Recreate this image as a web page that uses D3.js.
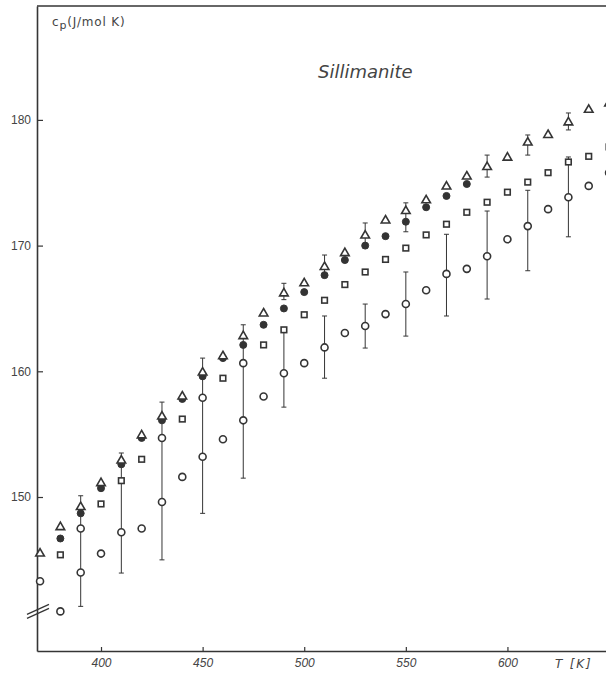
<!DOCTYPE html>
<html>
<head>
<meta charset="utf-8">
<script src="https://cdn.jsdelivr.net/npm/d3@7"></script>
<style>
	body { margin: 0; background: #fff; }
	svg { display: block; }
</style>
</head>
<body>
<div id="chart"></div>
<script>
const WIDTH = 606
const HEIGHT = 675
const INK = '#353535'
const TEXT = '#444'

// cp in J/(mol K) against T in K
const triangles = [
	[370, 145.5], [380, 147.6], [390, 149.2], [400, 151.1], [410, 152.9],
	[420, 154.9], [430, 156.4], [440, 158.0], [450, 159.9], [460, 161.2],
	[470, 162.8], [480, 164.6], [490, 166.2], [500, 167.0], [510, 168.3],
	[520, 169.4], [530, 170.8], [540, 172.0], [550, 172.75], [560, 173.6],
	[570, 174.7], [580, 175.5], [590, 176.25], [600, 177.0], [610, 178.2],
	[620, 178.8], [630, 179.8], [640, 180.8], [650, 181.3]
]

const filled = [
	[380, 146.7], [390, 148.7], [400, 150.7], [410, 152.6], [420, 154.7],
	[430, 156.1], [440, 157.8], [450, 159.6], [460, 161.05], [470, 162.1],
	[480, 163.7], [490, 165.0], [500, 166.3], [510, 167.65], [520, 168.85],
	[530, 170.0], [540, 170.75], [550, 171.9], [560, 173.05], [570, 173.95],
	[580, 174.9]
]

const squares = [
	[380, 145.4], [400, 149.45], [410, 151.3], [420, 153.0], [440, 156.2],
	[460, 159.45], [480, 162.1], [490, 163.3], [500, 164.5], [510, 165.65],
	[520, 166.9], [530, 167.9], [540, 168.9], [550, 169.8], [560, 170.85],
	[570, 171.7], [580, 172.65], [590, 173.45], [600, 174.25], [610, 175.05],
	[620, 175.8], [630, 176.65], [640, 177.1], [650, 177.85]
]

const circles = [
	[370, 143.3], [380, 140.9], [390, 147.5], [390, 144.0], [400, 145.5],
	[410, 147.2], [420, 147.5], [430, 154.7], [430, 149.6], [440, 151.6],
	[450, 157.9], [450, 153.2], [460, 154.6], [470, 160.65], [470, 156.1],
	[480, 158.0], [490, 159.85], [500, 160.65], [510, 161.9], [520, 163.05],
	[530, 163.6], [540, 164.55], [550, 165.35], [560, 166.45], [570, 167.75],
	[580, 168.15], [590, 169.15], [600, 170.5], [610, 171.55], [620, 172.9],
	[630, 173.85], [640, 174.75], [650, 175.8]
]

// error bars: T, low, high
const errT = [390, 410, 430, 450, 470, 490, 490, 510, 510, 530, 530, 550, 550, 570, 590, 590, 610, 610, 630, 630]
const errLow = [141.3, 143.95, 145.0, 148.7, 151.5, 165.7, 157.15, 167.65, 159.45, 169.8, 161.85, 171.1, 162.8, 164.4, 175.45, 165.75, 177.2, 168.0, 179.2, 170.7]
const errHigh = [150.1, 153.5, 157.55, 161.05, 163.7, 167.0, 163.3, 169.25, 164.4, 171.8, 165.35, 173.4, 167.9, 170.9, 177.2, 172.75, 178.8, 174.4, 180.55, 177.05]

const xTicks = [400, 450, 500, 550, 600]
const yTicks = [150, 160, 170, 180]

const margin = { left: 37, top: 6, right: 0, bottom: 24 }

const svg = d3
	.select('#chart')
	.append('svg')
	.attr('width', WIDTH)
	.attr('height', HEIGHT)
	.style('font-family', '"DejaVu Sans", sans-serif')

const x = d3
	.scaleLinear()
	.domain([368.5, 648.5])
	.range([margin.left, WIDTH - margin.right])

const y = d3
	.scaleLinear()
	.domain([137.75, 189.06])
	.range([HEIGHT - margin.bottom, margin.top])

// axes
const xAxis = svg
	.append('g')
	.attr('transform', `translate(0,${y.range()[0]})`)
	.call(
		d3.axisBottom(x).tickValues(xTicks).tickSizeInner(-4).tickSizeOuter(0).tickPadding(7)
	)
xAxis.select('.domain').attr('stroke', INK).attr('stroke-width', 1.6)
xAxis.selectAll('.tick line').attr('stroke', INK).attr('stroke-width', 1.2)
xAxis
	.selectAll('.tick text')
	.attr('fill', TEXT)
	.style('font-size', '12px')
	.style('font-style', 'italic')

const yAxis = svg
	.append('g')
	.attr('transform', `translate(${x.range()[0]},0)`)
	.call(
		d3.axisLeft(y).tickValues(yTicks).tickSizeInner(-6).tickSizeOuter(0).tickPadding(6)
	)
yAxis.select('.domain').attr('stroke', INK).attr('stroke-width', 1.6)
yAxis.selectAll('.tick line').attr('stroke', INK).attr('stroke-width', 1.2)
yAxis.selectAll('.tick text').attr('fill', TEXT).style('font-size', '12px')

// top frame line
svg
	.append('line')
	.attr('x1', x.range()[0])
	.attr('x2', x.range()[1])
	.attr('y1', y.range()[1])
	.attr('y2', y.range()[1])
	.attr('stroke', INK)
	.attr('stroke-width', 1.6)

// axis break marks
const yb = y(140.75)
const x0 = x.range()[0]
for (const off of [0, -4]) {
	svg
		.append('line')
		.attr('x1', x0 - 10)
		.attr('y1', yb + 5 + off)
		.attr('x2', x0 + 12)
		.attr('y2', yb - 5 + off)
		.attr('stroke', INK)
		.attr('stroke-width', 1.3)
}

// labels
const ylab = svg
	.append('text')
	.attr('x', 52)
	.attr('y', 26)
	.attr('fill', TEXT)
	.style('font-size', '12px')
	.style('letter-spacing', '0.8px')
ylab.append('tspan').text('c')
ylab.append('tspan').attr('dy', 3).style('font-size', '11px').text('p')
ylab.append('tspan').attr('dy', -3).text('(J/mol K)')

svg
	.append('text')
	.attr('x', 318)
	.attr('y', 78)
	.attr('fill', TEXT)
	.style('font-size', '18px')
	.style('font-style', 'italic')
	.text('Sillimanite')

svg
	.append('text')
	.attr('x', 555)
	.attr('y', 668)
	.attr('fill', TEXT)
	.style('font-size', '12px')
	.style('font-style', 'italic')
	.style('letter-spacing', '1.8px')
	.text('T [K]')

// error bars
const bars = svg.append('g').attr('stroke', INK).attr('stroke-width', 1)
errT.forEach((t, i) => {
	const cx = x(t)
	bars.append('line')
		.attr('x1', cx).attr('x2', cx)
		.attr('y1', y(errLow[i])).attr('y2', y(errHigh[i]))
	for (const v of [errLow[i], errHigh[i]]) {
		bars.append('line')
			.attr('x1', cx - 2.5).attr('x2', cx + 2.5)
			.attr('y1', y(v)).attr('y2', y(v))
	}
})

// markers
const marks = svg.append('g').attr('stroke', INK).attr('stroke-width', 1.6)

marks
	.selectAll('.sq')
	.data(squares)
	.enter()
	.append('rect')
	.attr('x', (d) => x(d[0]) - 2.8)
	.attr('y', (d) => y(d[1]) - 2.8)
	.attr('width', 5.6)
	.attr('height', 5.6)
	.attr('fill', '#fff')

marks
	.selectAll('.oc')
	.data(circles)
	.enter()
	.append('circle')
	.attr('cx', (d) => x(d[0]))
	.attr('cy', (d) => y(d[1]))
	.attr('r', 3.5)
	.attr('fill', '#fff')

marks
	.selectAll('.fc')
	.data(filled)
	.enter()
	.append('circle')
	.attr('cx', (d) => x(d[0]))
	.attr('cy', (d) => y(d[1]))
	.attr('r', 3.5)
	.attr('fill', '#333')
	.attr('stroke-width', 1)

const tri = d3.symbol().type(d3.symbolTriangle).size(32)
marks
	.selectAll('.tr')
	.data(triangles)
	.enter()
	.append('path')
	.attr('d', tri)
	.attr('transform', (d) => `translate(${x(d[0])},${y(d[1])})`)
	.attr('fill', '#fff')
</script>
</body>
</html>
